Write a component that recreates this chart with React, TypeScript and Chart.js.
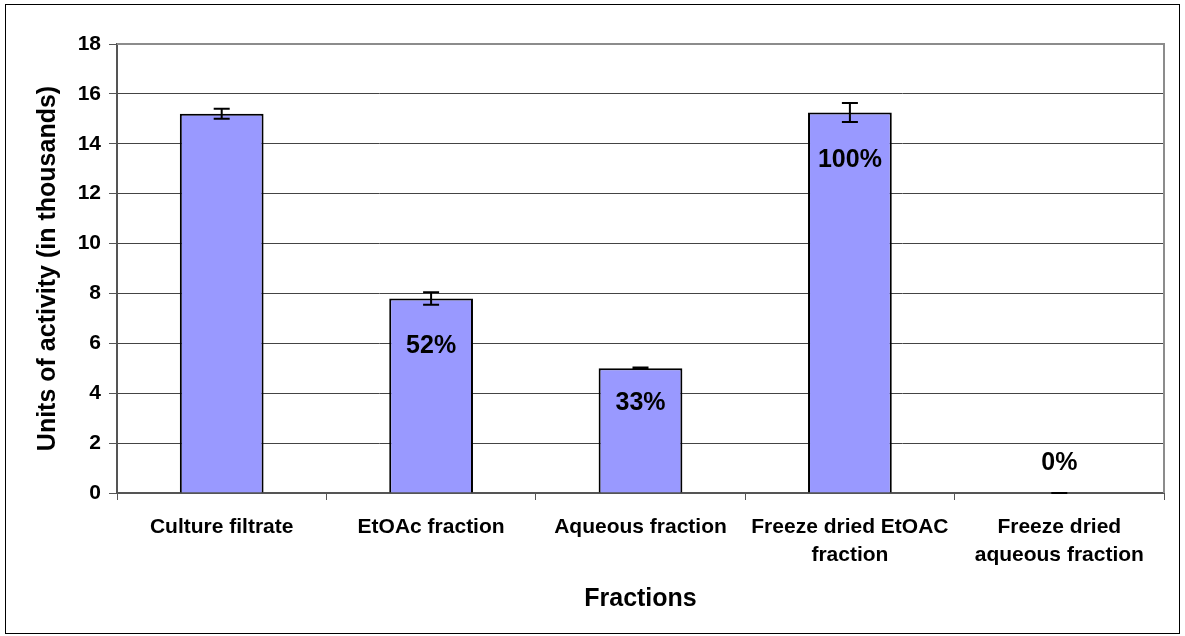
import React, { useEffect, useRef } from "react";
import { Chart, registerables } from "chart.js";

Chart.register(...registerables);

const categories: (string | string[])[] = [
  "Culture filtrate",
  "EtOAc fraction",
  "Aqueous fraction",
  ["Freeze dried EtOAC", "fraction"],
  ["Freeze dried", "aqueous fraction"],
];
const values = [15.2, 7.8, 5.0, 15.25, 0];
const errors = [0.2, 0.25, 0.03, 0.38, 0];
const pctLabels = ["", "52%", "33%", "100%", "0%"];
const pctLabelAt: (number | null)[] = [null, 5.9, 3.6, 13.35, 1.2];
const yMin = 0;
const yMax = 18;
const yStep = 2;

const W = 1185;
const H = 636;
const FONT = "'Liberation Sans', Arial, sans-serif";

const extras = {
  id: "extras",
  beforeDraw(chart: any) {
    const ctx = chart.ctx;
    ctx.save();
    ctx.fillStyle = "#fff";
    ctx.fillRect(0, 0, chart.width, chart.height);
    ctx.strokeStyle = "#000";
    ctx.lineWidth = 1;
    ctx.strokeRect(5.5, 4.5, chart.width - 11, chart.height - 7);
    ctx.restore();
  },
  beforeDatasetsDraw(chart: any) {
    const { ctx, chartArea } = chart;
    ctx.save();
    ctx.strokeStyle = "#8c8c8c";
    ctx.lineWidth = 2;
    ctx.beginPath();
    ctx.moveTo(chartArea.left, chartArea.top);
    ctx.lineTo(chartArea.right, chartArea.top);
    ctx.lineTo(chartArea.right, chartArea.bottom);
    ctx.stroke();
    ctx.restore();
  },
  afterDatasetsDraw(chart: any) {
    const { ctx } = chart;
    const meta = chart.getDatasetMeta(0);
    const y = chart.scales.y;
    ctx.save();
    ctx.strokeStyle = "#000";
    ctx.lineWidth = 2;
    meta.data.forEach((bar: any, i: number) => {
      const x = bar.x;
      const top = y.getPixelForValue(values[i] + errors[i]);
      const bot = y.getPixelForValue(values[i] - errors[i]);
      const cap = 8;
      ctx.beginPath();
      ctx.moveTo(x, top);
      ctx.lineTo(x, bot);
      ctx.moveTo(x - cap, top);
      ctx.lineTo(x + cap, top);
      ctx.moveTo(x - cap, bot);
      ctx.lineTo(x + cap, bot);
      ctx.stroke();
    });
    ctx.fillStyle = "#000";
    ctx.font = `bold 25px ${FONT}`;
    ctx.textAlign = "center";
    ctx.textBaseline = "middle";
    meta.data.forEach((bar: any, i: number) => {
      const at = pctLabelAt[i];
      if (at === null || !pctLabels[i]) return;
      ctx.fillText(pctLabels[i], bar.x, y.getPixelForValue(at));
    });
    ctx.restore();
  },
};

export default function App() {
  const ref = useRef<HTMLCanvasElement>(null);
  useEffect(() => {
    if (!ref.current) return;
    const chart = new Chart(ref.current, {
      type: "bar",
      data: {
        labels: categories,
        datasets: [
          {
            data: values,
            backgroundColor: "#9999FF",
            borderColor: "#000",
            borderWidth: 2,
            barPercentage: 0.4,
            categoryPercentage: 1,
          },
        ],
      },
      options: {
        responsive: false,
        animation: false,
        layout: { padding: { top: 44, right: 21, left: 0, bottom: 0 } },
        plugins: { legend: { display: false }, tooltip: { enabled: false } },
        scales: {
          x: {
            offset: true,
            grid: {
              offset: true,
              drawOnChartArea: false,
              drawTicks: true,
              tickLength: 7,
              tickColor: "#555",
              color: "#555",
            },
            border: { color: "#555", width: 2 },
            ticks: {
              color: "#000",
              padding: 13,
              maxRotation: 0,
              autoSkip: false,
              font: { family: FONT, size: 21, weight: "bold", lineHeight: 1.33 },
            },
            title: {
              display: true,
              text: "Fractions",
              color: "#000",
              font: { family: FONT, size: 25, weight: "bold", lineHeight: 1.2 },
              padding: { top: 0, bottom: 22 },
            },
            afterFit(scale: any) {
              scale.height = 143;
            },
          },
          y: {
            min: yMin,
            max: yMax,
            ticks: {
              stepSize: yStep,
              color: "#000",
              padding: 8,
              font: { family: FONT, size: 21, weight: "bold" },
            },
            grid: {
              color: "#444",
              lineWidth: 1,
              tickLength: 8,
              tickColor: "#555",
            },
            border: { color: "#555", width: 2 },
            title: {
              display: true,
              text: "Units of activity (in thousands)",
              color: "#000",
              font: { family: FONT, size: 25, weight: "bold", lineHeight: 1.2 },
              padding: { top: 33, bottom: 0 },
            },
            afterFit(scale: any) {
              scale.width = 117;
            },
          },
        },
      },
      plugins: [extras],
    });
    return () => chart.destroy();
  }, []);
  return (
    <div style={{ position: "fixed", left: 0, top: 0, width: W, height: H }}>
      <canvas ref={ref} width={W} height={H} style={{ display: "block", width: W, height: H }} />
    </div>
  );
}
